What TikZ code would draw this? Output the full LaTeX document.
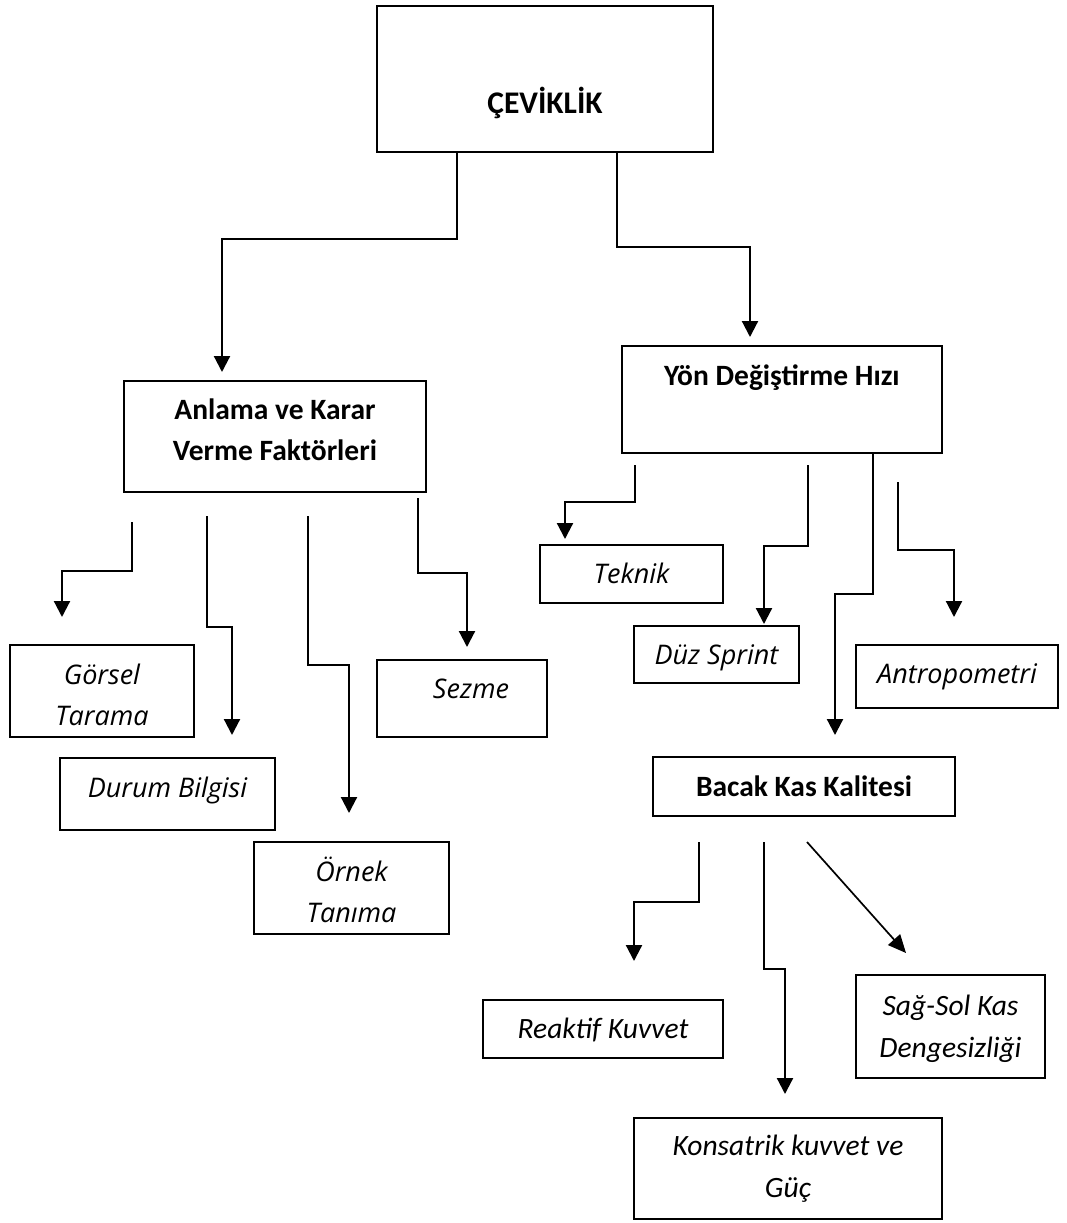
\documentclass[tikz,border=0pt]{standalone}
\usepackage{fontspec}
\setmainfont{Carlito}
\newfontfamily\osans{Open Sans}
\usetikzlibrary{arrows.meta}
\begin{document}
\begin{tikzpicture}[x=1pt,y=-1pt,
  box/.style={draw,line width=1.4pt,inner sep=0pt,align=center},
  bl/.style 2 args={text height=#1pt,text depth=#2pt},
  bf/.style={font=\fontsize{29.5}{41}\selectfont\bfseries},
  ita/.style={font=\osans\fontsize{27}{41}\selectfont\itshape},
  itb/.style={font=\fontsize{29.5}{42}\selectfont\itshape},
  arr/.style={line width=2.2pt,-{Triangle[width=16pt,length=16pt]}},
  thinarr/.style={line width=1.7pt,-{Triangle[width=16pt,length=18pt]}},
]
\useasboundingbox (0,0) rectangle (1066,1223);

% boxes
\node[box,font=\fontsize{31.5}{41}\selectfont\bfseries,bl={68}{0},minimum width=336pt,minimum height=146pt] (T) at (545,79) {ÇEVİKLİK};
\node[box,bf,bl={47}{0},minimum width=302pt,minimum height=111pt] (A) at (275,436.5) {Anlama ve Karar\\Verme Faktörleri};
\node[box,bf,bl={0}{29},minimum width=320pt,minimum height=107pt] (Y) at (782,399.5) {Yön Değiştirme Hızı};

\node[box,ita,bl={68}{0},minimum width=184pt,minimum height=92pt] (G) at (102,691) {Görsel\\Tarama};
\node[box,ita,bl={6}{0},minimum width=215pt,minimum height=72pt] (D) at (167.5,794) {Durum Bilgisi};
\node[box,ita,bl={68}{0},minimum width=195pt,minimum height=92pt] (O) at (351.5,888) {Örnek\\Tanıma};
\node[box,ita,bl={0}{1},minimum width=170pt,minimum height=77pt] (S) at (462,698.5) {\hspace*{18pt}Sezme};

\node[box,ita,bl={18}{0},minimum width=183pt,minimum height=58pt] (K) at (631.5,574) {Teknik};
\node[box,ita,bl={19}{0},minimum width=165pt,minimum height=57pt] (Z) at (716.5,654.5) {Düz Sprint};
\node[box,ita,bl={13}{0},minimum width=202pt,minimum height=63pt] (P) at (957,676.5) {Antropometri};

\node[box,bf,bl={19}{0},minimum width=302pt,minimum height=59pt] (B) at (804,786.5) {Bacak Kas Kalitesi};

\node[box,itb,bl={18}{0},minimum width=240pt,minimum height=58pt] (R) at (603,1029) {Reaktif Kuvvet};
\node[box,itb,bl={57}{0},minimum width=308pt,minimum height=101pt] (C) at (788,1168.5) {Konsatrik kuvvet ve\\Güç};
\node[box,itb,bl={61}{0},minimum width=189pt,minimum height=103pt] (L) at (950.5,1026.5) {Sağ-Sol Kas\\Dengesizliği};

% free ends of connectors
\coordinate (tA) at (222,372);
\coordinate (tY) at (750,337);
\coordinate (sG) at (132,522);  \coordinate (tG) at (62,617);
\coordinate (sD) at (207,516);  \coordinate (tD) at (232,735);
\coordinate (sO) at (308,516);  \coordinate (tO) at (349,813);
\coordinate (sS) at (418,498);  \coordinate (tS) at (467,647);
\coordinate (sK) at (635,465);  \coordinate (tK) at (565,539);
\coordinate (sZ) at (808,465);  \coordinate (tZ) at (764,624);
\coordinate (tB) at (835,735);
\coordinate (sP) at (898,482);  \coordinate (tP) at (954,617);
\coordinate (sR) at (699,842);  \coordinate (tR) at (634,961);
\coordinate (sC) at (764,842);  \coordinate (tC) at (785,1094);
\coordinate (sL) at (807,842);  \coordinate (tL) at (906,953);

% connectors
\draw[arr] (T.south -| 457,0) -- (457,239) -| (tA);
\draw[arr] (T.south -| 617,0) -- (617,247) -| (tY);

\draw[arr] (sG) -- (132,571) -| (tG);
\draw[arr] (sD) -- (207,627) -| (tD);
\draw[arr] (sO) -- (308,665) -| (tO);
\draw[arr] (sS) -- (418,573) -| (tS);

\draw[arr] (sK) -- (635,502) -| (tK);
\draw[arr] (sZ) -- (808,546) -| (tZ);
\draw[arr] (Y.south -| 873,0) -- (873,594) -| (tB);
\draw[arr] (sP) -- (898,550) -| (tP);

\draw[arr] (sR) -- (699,902) -| (tR);
\draw[arr] (sC) -- (764,969) -| (tC);
\draw[thinarr] (sL) -- (tL);
\end{tikzpicture}
\end{document}
